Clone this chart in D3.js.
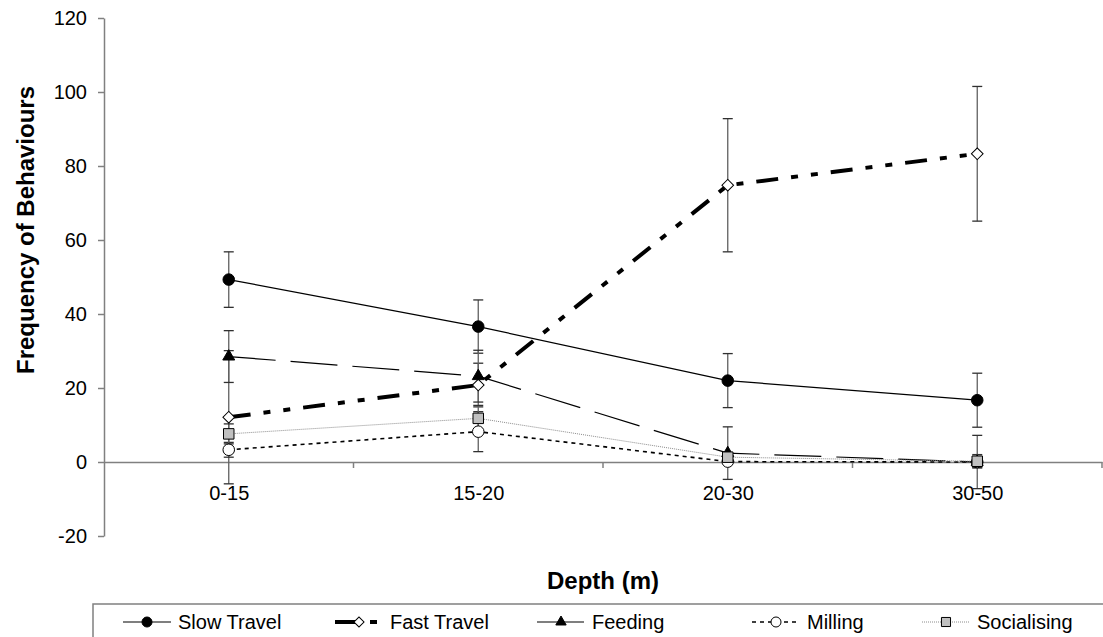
<!DOCTYPE html>
<html>
<head>
<meta charset="utf-8">
<script src="https://cdn.jsdelivr.net/npm/d3@7"></script>
<style>
  body { margin: 0; background: #fff; }
  text { font-family: Arial, "Liberation Sans", sans-serif; fill: #000; }
</style>
</head>
<body>
<div id="chart"></div>
<script>
// Data
const depths = ["0-15", "15-20", "20-30", "30-50"];
const seriesNames = ["Slow Travel", "Fast Travel", "Feeding", "Milling", "Socialising"];

const slowTravel = [49.3, 36.6, 22.0, 16.7];
const slowTravelErr = [7.5, 7.2, 7.3, 7.3];
const fastTravel = [12.1, 20.8, 74.8, 83.3];
const fastTravelErr = [18.0, 5.9, 18.0, 18.2];
const feeding = [28.5, 23.2, 2.4, 0.0];
const feedingErr = [7.0, 7.0, 7.1, 7.2];
const milling = [3.3, 8.2, 0.1, 0.0];
const millingErr = [2.0, 5.4, 0.5, 1.5];
const socialising = [7.6, 11.8, 1.3, 0.2];
const socialisingErr = [2.7, 3.5, 1.0, 1.8];

const yTicks = [-20, 0, 20, 40, 60, 80, 100, 120];

const width = 1103;
const height = 637;

const svg = d3.select("#chart")
  .append("svg")
  .attr("width", width)
  .attr("height", height);

const x = d3.scalePoint()
  .domain(depths)
  .range([104, 1102])
  .padding(0.5);

const y = d3.scaleLinear()
  .domain([-20, 120])
  .range([536, 18]);

// Styles per series (line dash, marker)
const styles = {
  "Slow Travel": { stroke: "#000", width: 1.2, dash: null, symbol: d3.symbolCircle, size: 105, fill: "#000", rotate: 0 },
  "Fast Travel": { stroke: "#000", width: 4, dash: "22,13,7,13,7,13", symbol: d3.symbolSquare, size: 68, fill: "#fff", rotate: 45 },
  "Feeding": { stroke: "#000", width: 1.2, dash: "47,15", symbol: d3.symbolTriangle, size: 62, fill: "#000", rotate: 0 },
  "Milling": { stroke: "#000", width: 1.6, dash: "4,4", symbol: d3.symbolCircle, size: 105, fill: "#fff", rotate: 0 },
  "Socialising": { stroke: "#8c8c8c", width: 1, dash: "1,1", symbol: d3.symbolSquare, size: 110, fill: "#c0c0c0", rotate: 0 }
};

const series = [
  { name: "Slow Travel", values: slowTravel, err: slowTravelErr },
  { name: "Fast Travel", values: fastTravel, err: fastTravelErr },
  { name: "Feeding", values: feeding, err: feedingErr },
  { name: "Milling", values: milling, err: millingErr },
  { name: "Socialising", values: socialising, err: socialisingErr }
];

// Y axis
const yAxis = svg.append("g")
  .attr("transform", "translate(104,0)")
  .call(d3.axisLeft(y).tickValues(yTicks).tickFormat(d => String(d)).tickSize(6).tickSizeOuter(0).tickPadding(11));
yAxis.select(".domain").attr("stroke", "#808080").attr("stroke-width", 1.5);
yAxis.selectAll(".tick line").attr("stroke", "#808080").attr("stroke-width", 1.5);
yAxis.selectAll(".tick text").attr("font-size", 20).attr("font-family", "Arial, 'Liberation Sans', sans-serif");

// X axis at y = 0
const xAxis = svg.append("g")
  .attr("transform", `translate(0,${y(0)})`)
  .call(d3.axisBottom(x).tickSize(0).tickPadding(24));
xAxis.select(".domain").attr("stroke", "#808080").attr("stroke-width", 1.5);
xAxis.selectAll(".tick text").attr("font-size", 20).attr("font-family", "Arial, 'Liberation Sans', sans-serif");

// tick marks between categories
xAxis.selectAll(".bound")
  .data(depths)
  .enter().append("line")
  .attr("x1", d => x(d) + x.step() / 2)
  .attr("x2", d => x(d) + x.step() / 2)
  .attr("y1", 0)
  .attr("y2", 6)
  .attr("stroke", "#808080")
  .attr("stroke-width", 1.5);

// Axis titles
svg.append("text")
  .attr("transform", "translate(34,230) rotate(-90)")
  .attr("text-anchor", "middle")
  .attr("font-size", 24)
  .attr("font-weight", "bold")
  .text("Frequency of Behaviours");

svg.append("text")
  .attr("x", (104 + 1102) / 2)
  .attr("y", 589)
  .attr("text-anchor", "middle")
  .attr("font-size", 24)
  .attr("font-weight", "bold")
  .text("Depth (m)");

// Lines
const line = d3.line()
  .x((d, i) => x(depths[i]))
  .y(d => y(d));

svg.selectAll(".series-line")
  .data(series)
  .enter().append("path")
  .attr("class", "series-line")
  .attr("d", d => line(d.values))
  .attr("fill", "none")
  .attr("stroke", d => styles[d.name].stroke)
  .attr("stroke-width", d => styles[d.name].width)
  .attr("stroke-dasharray", d => styles[d.name].dash);

// Error bars
series.forEach(s => {
  const g = svg.append("g").attr("class", "errbars");
  s.values.forEach((v, i) => {
    const cx = x(depths[i]);
    const top = y(v + s.err[i]);
    const bot = y(v - s.err[i]);
    g.append("line")
      .attr("x1", cx).attr("x2", cx)
      .attr("y1", top).attr("y2", bot)
      .attr("stroke", "#606060").attr("stroke-width", 1.3);
    [top, bot].forEach(cy => {
      g.append("line")
        .attr("x1", cx - 5).attr("x2", cx + 5)
        .attr("y1", cy).attr("y2", cy)
        .attr("stroke", "#303030").attr("stroke-width", 1.3);
    });
  });
});

// Markers
series.forEach(s => {
  const st = styles[s.name];
  svg.selectAll(null)
    .data(s.values)
    .enter().append("path")
    .attr("d", d3.symbol().type(st.symbol).size(st.size))
    .attr("transform", (d, i) => `translate(${x(depths[i])},${y(d)}) rotate(${st.rotate})`)
    .attr("fill", st.fill)
    .attr("stroke", "#000")
    .attr("stroke-width", 1);
});

// Legend
const legendX = [123, 335, 537, 752, 922];
const legend = svg.append("g");
legend.append("rect")
  .attr("x", 93)
  .attr("y", 604)
  .attr("width", 1100)
  .attr("height", 60)
  .attr("fill", "#fff")
  .attr("stroke", "#808080")
  .attr("stroke-width", 1.5);

seriesNames.forEach((name, i) => {
  const st = styles[name];
  const lx = legendX[i];
  const ly = 622;
  legend.append("line")
    .attr("x1", lx).attr("x2", lx + 48)
    .attr("y1", ly).attr("y2", ly)
    .attr("stroke", st.stroke)
    .attr("stroke-width", st.width)
    .attr("stroke-dasharray", name === "Fast Travel" ? "22,13,7,13" : st.dash);
  legend.append("path")
    .attr("d", d3.symbol().type(st.symbol).size(st.size * 0.75))
    .attr("transform", `translate(${lx + 24},${ly}) rotate(${st.rotate})`)
    .attr("fill", st.fill)
    .attr("stroke", "#000")
    .attr("stroke-width", 1);
  legend.append("text")
    .attr("x", lx + 55)
    .attr("y", ly + 7)
    .attr("font-size", 20)
    .text(name);
});
</script>
</body>
</html>
